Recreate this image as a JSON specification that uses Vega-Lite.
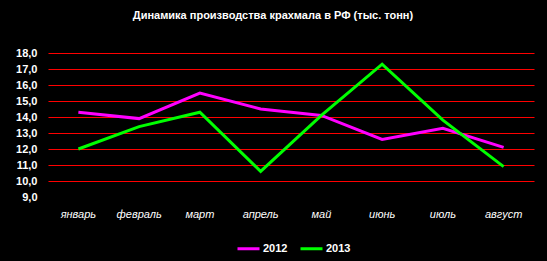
{
  "$schema": "https://vega.github.io/schema/vega-lite/v6.json",
  "width": 486,
  "height": 144,
  "autosize": "none",
  "padding": {"left": 48, "top": 53, "right": 13, "bottom": 64},
  "background": "black",
  "config": {
    "view": {"stroke": null},
    "locale": {"number": {"decimal": ",", "thousands": " ", "grouping": [3], "currency": ["", ""]}}
  },
  "title": {
    "text": "Динамика производства крахмала в РФ (тыс. тонн)",
    "color": "white",
    "font": "Liberation Sans",
    "fontSize": 11,
    "fontWeight": "bold",
    "anchor": "middle",
    "dx": -18,
    "offset": 26
  },
  "data": {
    "values": [
      {"month": "январь", "year": "2012", "value": 14.3},
      {"month": "февраль", "year": "2012", "value": 13.9},
      {"month": "март", "year": "2012", "value": 15.5},
      {"month": "апрель", "year": "2012", "value": 14.5},
      {"month": "май", "year": "2012", "value": 14.1},
      {"month": "июнь", "year": "2012", "value": 12.6},
      {"month": "июль", "year": "2012", "value": 13.3},
      {"month": "август", "year": "2012", "value": 12.1},
      {"month": "январь", "year": "2013", "value": 12.0},
      {"month": "февраль", "year": "2013", "value": 13.4},
      {"month": "март", "year": "2013", "value": 14.3},
      {"month": "апрель", "year": "2013", "value": 10.6},
      {"month": "май", "year": "2013", "value": 14.1},
      {"month": "июнь", "year": "2013", "value": 17.3},
      {"month": "июль", "year": "2013", "value": 13.8},
      {"month": "август", "year": "2013", "value": 10.9}
    ]
  },
  "mark": {"type": "line", "strokeWidth": 3},
  "encoding": {
    "x": {
      "field": "month",
      "type": "nominal",
      "sort": null,
      "scale": {"type": "band", "paddingInner": 0, "paddingOuter": 0},
      "axis": {
        "title": null,
        "labelAngle": 0,
        "labelColor": "white",
        "labelFont": "Liberation Sans",
        "labelFontSize": 11,
        "labelFontStyle": "italic",
        "labelPadding": 11,
        "ticks": false,
        "domain": false,
        "grid": false
      }
    },
    "y": {
      "field": "value",
      "type": "quantitative",
      "scale": {"domain": [9, 18], "nice": false, "zero": false},
      "axis": {
        "title": null,
        "values": [9, 10, 11, 12, 13, 14, 15, 16, 17, 18],
        "format": ".1f",
        "labelColor": "white",
        "labelFont": "Liberation Sans",
        "labelFontSize": 11,
        "labelFontWeight": "bold",
        "labelPadding": 11,
        "ticks": false,
        "domain": false,
        "grid": true,
        "gridColor": "#FF0000",
        "gridWidth": 1,
        "gridOpacity": {"condition": {"test": "datum.value == 9", "value": 0}, "value": 1}
      }
    },
    "color": {
      "field": "year",
      "type": "nominal",
      "scale": {"domain": ["2012", "2013"], "range": ["#FF00FF", "#00FF00"]},
      "legend": {
        "title": null,
        "orient": "none",
        "legendX": 188,
        "legendY": 183,
        "direction": "horizontal",
        "symbolType": "stroke",
        "symbolStrokeWidth": 3,
        "symbolSize": 484,
        "labelColor": "white",
        "labelFont": "Liberation Sans",
        "labelFontSize": 11,
        "labelFontWeight": "bold",
        "labelOffset": 2,
        "columnPadding": 6
      }
    }
  }
}
